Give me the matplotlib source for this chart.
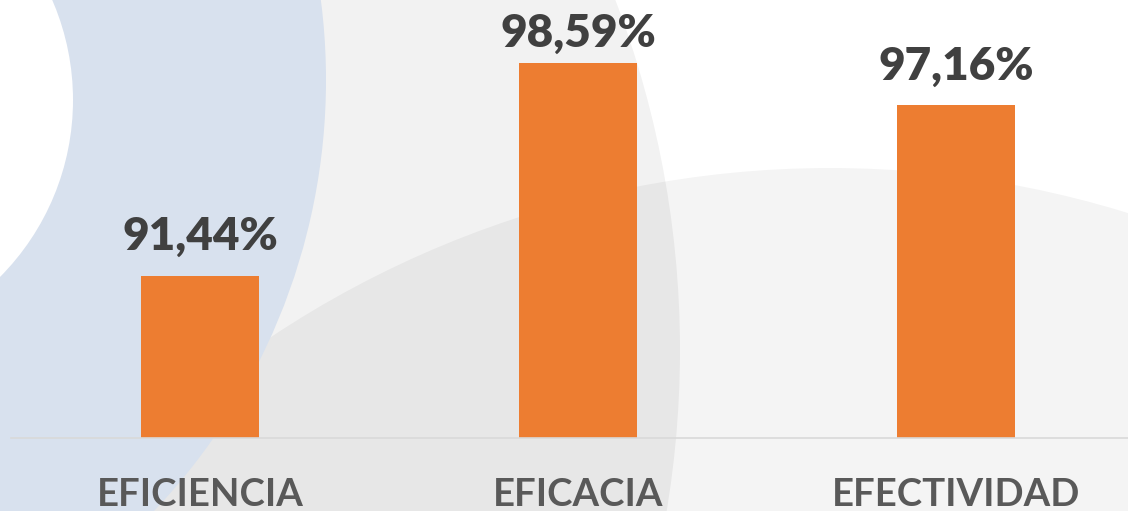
import matplotlib
matplotlib.use("Agg")
import matplotlib.pyplot as plt
from matplotlib.patches import Circle

# ---------- DATA ----------
categories = ["EFICIENCIA", "EFICACIA", "EFECTIVIDAD"]
values = [91.44, 98.59, 97.16]

# ---------- STYLE ----------
W, H, DPI = 1128, 511, 100
BAR_COLOR = "#ED7D31"
VALUE_COLOR = "#404040"
CAT_COLOR = "#595959"
AXIS_LINE = "#d9d9d9"
FONT = ["Lato", "DejaVu Sans"]
Y_MIN, Y_MAX = 86.0, 100.70
LABEL_PAD_PT = [18.5, 11.5, 18.5]  # middle label sits tighter to its bar


def draw_background(fig):
    bg = fig.add_axes([0, 0, 1, 1], zorder=0)
    bg.set_xlim(0, W)
    bg.set_ylim(H, 0)
    bg.set_axis_off()
    bg.add_patch(plt.Rectangle((0, 0), W, H, color="white"))
    # large grey circles (soft slide decoration)
    bg.add_patch(Circle((-300, 350), 980, color="black", alpha=0.05, lw=0))
    bg.add_patch(Circle((830, 1177), 1009, color="black", alpha=0.045, lw=0))
    # light blue crescent on the left
    bg.add_patch(Circle((-300, 80), 626, color="#d8e1ee", lw=0))
    bg.add_patch(Circle((-178, 100), 251, color="white", lw=0))
    return bg


def main():
    fig = plt.figure(figsize=(W / DPI, H / DPI), dpi=DPI)
    draw_background(fig)

    base_y = 438
    ax = fig.add_axes([11 / W, 1 - base_y / H, 1134 / W, base_y / H], zorder=1)
    ax.patch.set_alpha(0)

    x = list(range(len(categories)))
    bars = ax.bar(x, [v - Y_MIN for v in values], bottom=Y_MIN, width=0.312,
                  color=BAR_COLOR, zorder=2)
    ax.set_xlim(-0.5, 2.5)
    ax.set_ylim(Y_MIN, Y_MAX)

    for rect, v, pad in zip(bars, values, LABEL_PAD_PT):
        ax.annotate(f"{v:.2f}%".replace(".", ","),
                    xy=(rect.get_x() + rect.get_width() / 2, v),
                    xytext=(0, pad), textcoords="offset points",
                    ha="center", va="baseline", fontsize=33,
                    fontweight="heavy", color=VALUE_COLOR, family=FONT)

    ax.set_xticks(x)
    ax.set_xticklabels(categories, fontsize=27.5, fontweight="bold",
                       color=CAT_COLOR, family=FONT)
    ax.tick_params(axis="x", length=0, pad=29)
    ax.set_yticks([])
    for s in ["top", "right", "left"]:
        ax.spines[s].set_visible(False)
    ax.spines["bottom"].set_color(AXIS_LINE)
    ax.spines["bottom"].set_linewidth(1.2)

    fig.savefig("out.png", dpi=DPI)
    plt.close(fig)


if __name__ == "__main__":
    main()
